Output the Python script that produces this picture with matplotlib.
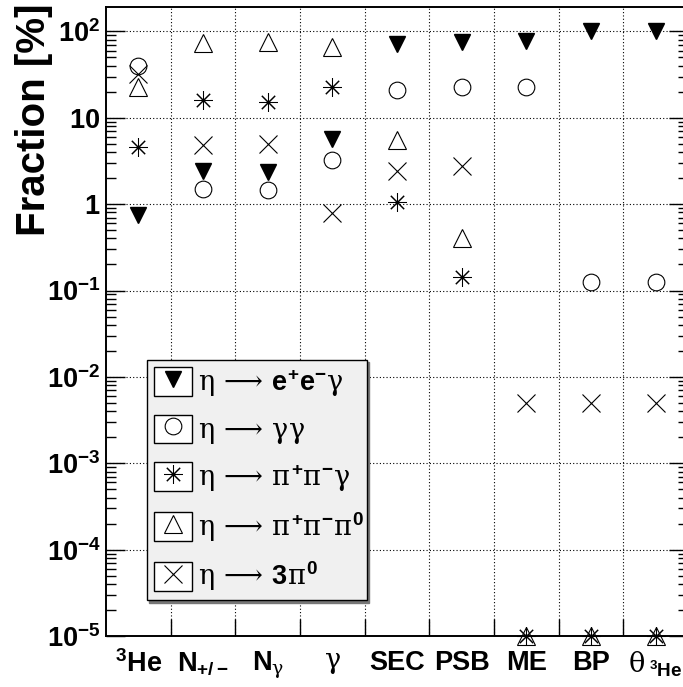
import matplotlib
matplotlib.use("Agg")
import matplotlib.pyplot as plt
from matplotlib.ticker import FixedLocator, FixedFormatter, NullFormatter
from matplotlib.legend_handler import HandlerLine2D
from matplotlib.patches import Rectangle
import numpy as np

# ---------------- data ----------------
categories = [r"$\mathbf{{}^{3}He}$", r"$\mathbf{N_{+/-}}$", r"$\mathbf{N}_{\gamma}$",
              r"$\gamma$", "SEC", "PSB", "ME", "BP", r"$\theta\,_{\mathbf{{}^{3}He}}$"]
eeg   = [0.75, 2.45, 2.35, 5.7, 72, 75, 77, 100, 100]          # eta -> e+e-gamma
gg    = [40, 1.48, 1.44, 3.2, 20.7, 22.6, 22.6, 0.125, 0.125]  # eta -> gamma gamma
ppg   = [4.6, 16.2, 15.2, 23, 1.05, 0.143, 1e-5, 1e-5, 1e-5]   # eta -> pi+pi-gamma
ppp0  = [22.6, 73, 75, 66, 5.46, 0.40, 1e-5, 1e-5, 1e-5]       # eta -> pi+pi-pi0
pi0x3 = [32, 4.9, 5.0, 0.79, 2.45, 2.8, 0.005, 0.005, 0.005]   # eta -> 3pi0

series_labels = [r"$\eta\,\longrightarrow\,\mathbf{e^{+}e^{-}}\gamma$",
                 r"$\eta\,\longrightarrow\,\gamma\gamma$",
                 r"$\eta\,\longrightarrow\,\pi^{\mathbf{+}}\pi^{\mathbf{-}}\gamma$",
                 r"$\eta\,\longrightarrow\,\pi^{\mathbf{+}}\pi^{\mathbf{-}}\pi^{\mathbf{0}}$",
                 r"$\eta\,\longrightarrow\,\mathbf{3}\pi^{\mathbf{0}}$"]
ytick_vals = [1e-5, 1e-4, 1e-3, 1e-2, 1e-1, 1, 10, 100]
ytick_labels = [r"$\mathbf{10^{-5}}$", r"$\mathbf{10^{-4}}$", r"$\mathbf{10^{-3}}$",
                r"$\mathbf{10^{-2}}$", r"$\mathbf{10^{-1}}$", r"$\mathbf{1}$",
                r"$\mathbf{10}$", r"$\mathbf{10^{2}}$"]

# ---------------- style ----------------
plt.rcParams['font.family'] = ['Liberation Sans', 'DejaVu Sans']
plt.rcParams['font.weight'] = 'bold'
plt.rcParams['mathtext.fontset'] = 'custom'
plt.rcParams['mathtext.rm'] = 'DejaVu Serif:weight=normal'
plt.rcParams['mathtext.it'] = 'DejaVu Serif:weight=normal'
plt.rcParams['mathtext.bf'] = 'Liberation Sans:weight=bold'
plt.rcParams['mathtext.sf'] = 'Liberation Sans:weight=bold'
plt.rcParams['mathtext.fallback'] = 'stix'

W, H = 683, 687
fig = plt.figure(figsize=(W / 100, H / 100), dpi=100)
ax = fig.add_axes([106 / W, 1 - 636 / H, (688 - 106) / W, (636 - 7.3) / H])

x = np.arange(len(categories))
asterisk = (8, 2, 0)
common = dict(linestyle='none', clip_on=False, zorder=3, color='black', mec='black')
ax.plot(x, eeg, marker='v', ms=11.5, label=series_labels[0], **common)
ax.plot(x, gg, marker='o', ms=12, mfc='none', mew=0.8, label=series_labels[1], **common)
ax.plot(x, ppg, marker=asterisk, ms=13.5, mew=0.75, label=series_labels[2], **common)
ax.plot(x, ppp0, marker='^', ms=13, mfc='none', mew=0.8, label=series_labels[3], **common)
ax.plot(x, pi0x3, marker='x', ms=12.5, mew=0.8, label=series_labels[4], **common)

ax.set_yscale('log')
ax.set_ylim(1e-5, 190)
ax.set_xlim(-0.5, len(categories) - 0.5)

# y ticks
ax.yaxis.set_major_locator(FixedLocator(ytick_vals))
ax.yaxis.set_major_formatter(FixedFormatter(ytick_labels))
minors = [m * 10.0 ** e for e in range(-5, 3) for m in range(2, 10)]
ax.yaxis.set_minor_locator(FixedLocator(minors))
ax.yaxis.set_minor_formatter(NullFormatter())
ax.tick_params(axis='y', which='major', direction='in', length=14, width=1.0,
               left=True, right=True, labelsize=19.5, pad=4)
ax.tick_params(axis='y', which='minor', direction='in', length=7, width=1.0,
               left=True, right=True)

# x ticks: major at bin edges, labels at bin centres
edges = x[:-1] + 0.5
ax.xaxis.set_major_locator(FixedLocator(edges))
ax.xaxis.set_major_formatter(NullFormatter())
ax.xaxis.set_minor_locator(FixedLocator(x))
ax.xaxis.set_minor_formatter(FixedFormatter(categories))
ax.tick_params(axis='x', which='major', direction='in', length=12, width=1.0,
               bottom=True, top=False)
ax.tick_params(axis='x', which='minor', length=0, labelsize=19.5, pad=10)

ax.grid(True, which='major', axis='both', color='black', linestyle=(0, (1, 2)), linewidth=0.8)
for s in ax.spines.values():
    s.set_linewidth(1.4)

fig.text(34 / W, 1 - 3 / H, "Fraction [%]", rotation=90, ha='center', va='top',
         fontsize=29, fontweight='bold')


class BoxedHandler(HandlerLine2D):
    def create_artists(self, legend, orig_handle, xdescent, ydescent, width, height,
                       fontsize, trans):
        rect = Rectangle((-xdescent, -ydescent), width, height, facecolor='white',
                         edgecolor='black', linewidth=1.0, transform=trans)
        arts = super().create_artists(legend, orig_handle, xdescent, ydescent, width,
                                      height, fontsize, trans)
        return [rect] + list(arts)


LF = 19.5  # legend font size in points
LFpx = LF * 100 / 72
leg = ax.legend(loc='upper left', bbox_to_anchor=(147 / W, 1 - 360 / H, 220 / W, 0.0),
                bbox_transform=fig.transFigure, mode='expand', borderaxespad=0,
                fontsize=LF, frameon=True, fancybox=False, facecolor='#f0f0f0',
                edgecolor='black', framealpha=1, numpoints=1,
                handlelength=38 / LFpx, handleheight=34 / LFpx, handletextpad=6 / LFpx,
                labelspacing=16 / LFpx, borderpad=7 / LFpx,
                shadow={'ox': 1.5, 'oy': -1.5, 'color': '#777777', 'alpha': 1},
                handler_map={plt.Line2D: BoxedHandler()})
leg.get_frame().set_linewidth(1.0)

fig.savefig("out.png", dpi=100)
